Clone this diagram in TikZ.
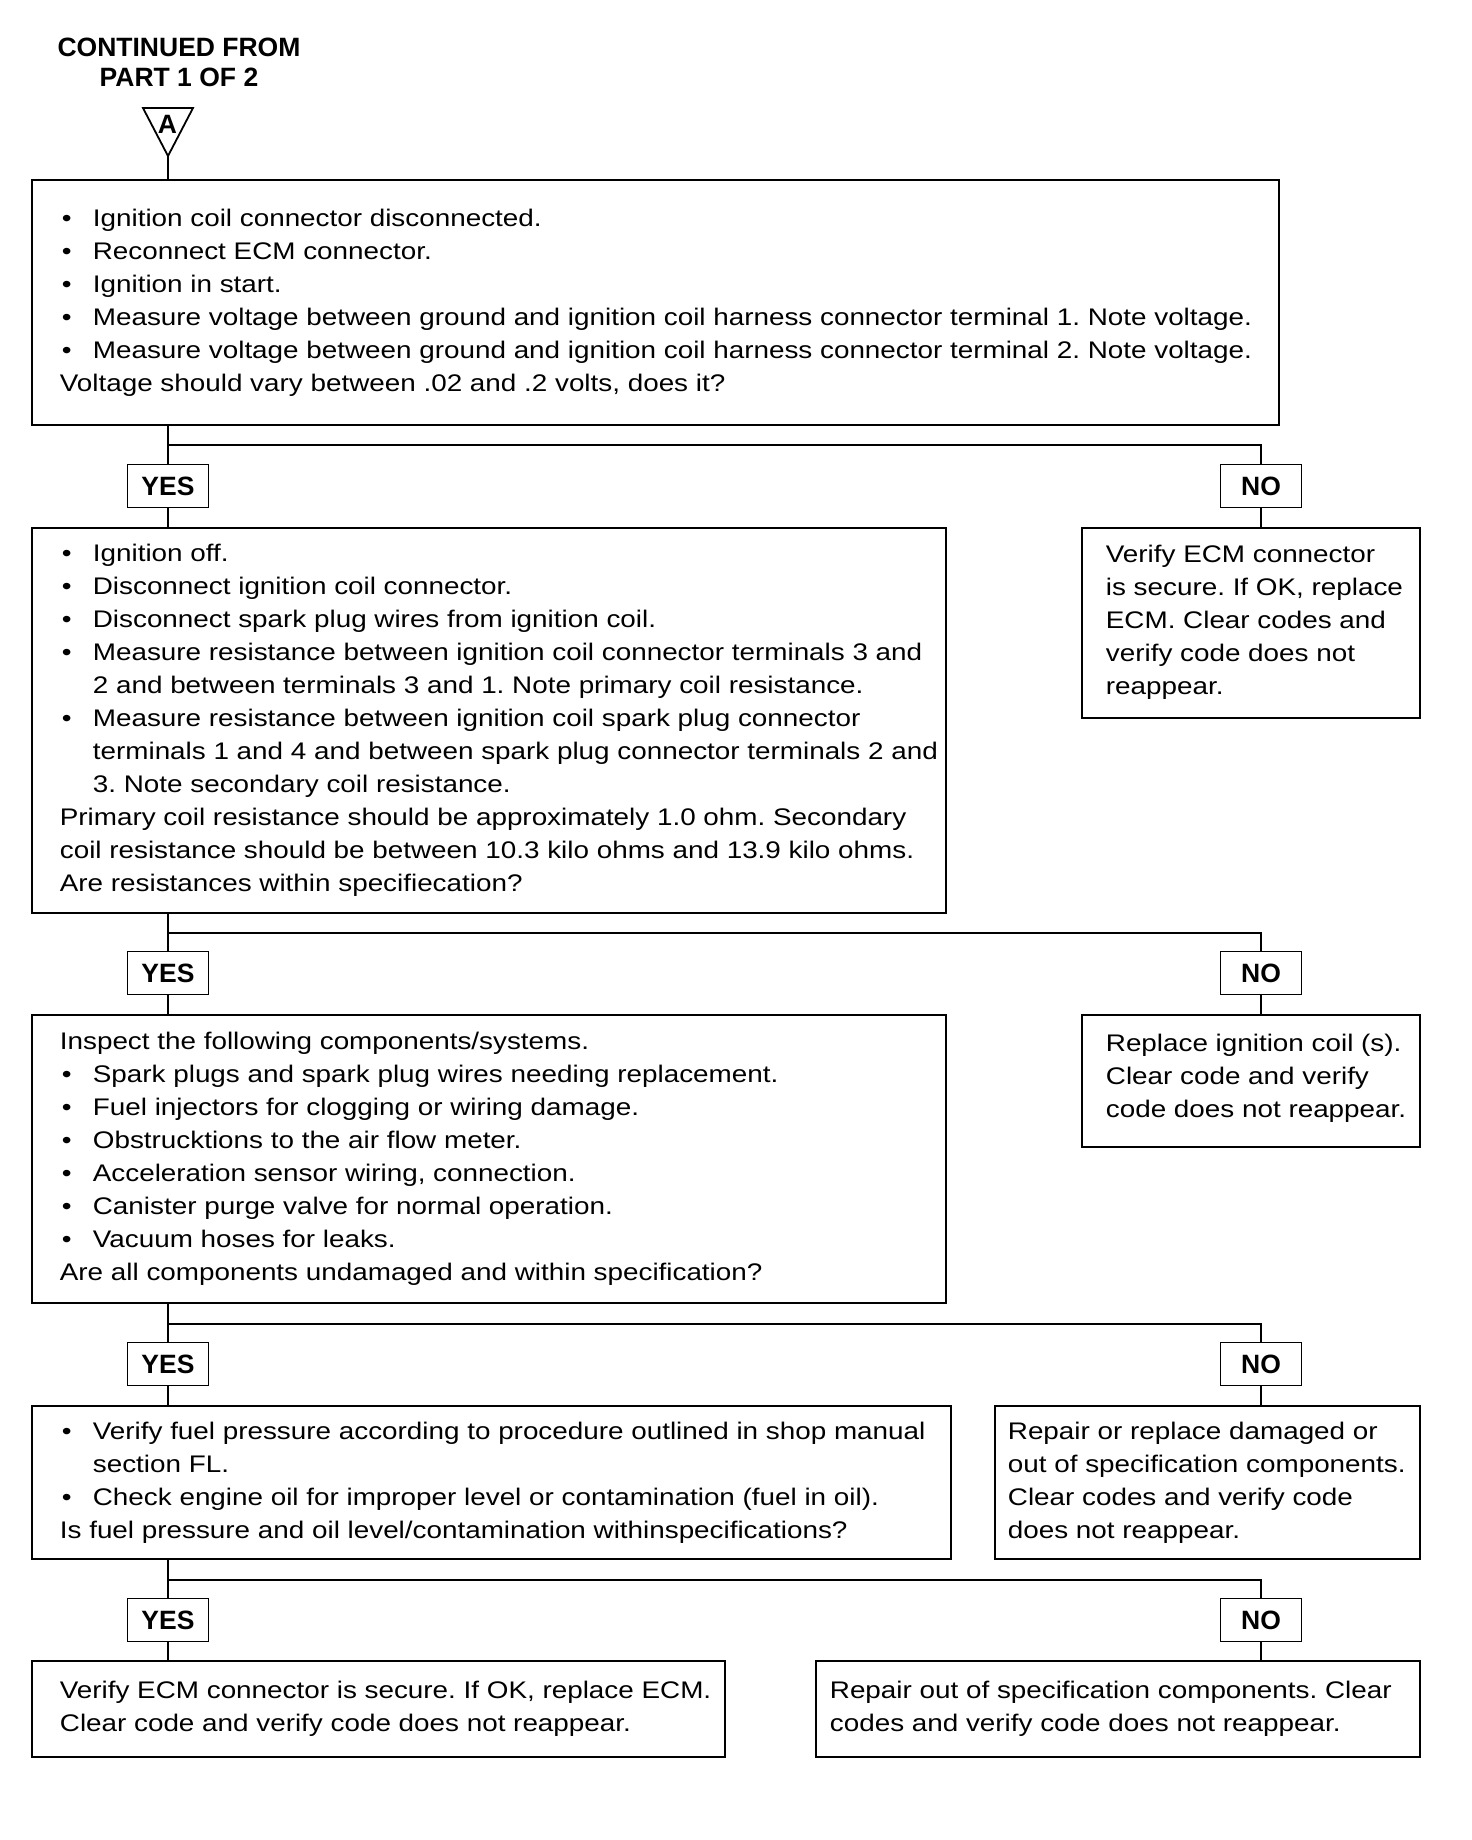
\documentclass[tikz,border=0pt]{standalone}
\usepackage{fontspec}
\setmainfont{Liberation Sans}[FakeStretch=1.16]
\newfontfamily\hdfont{Liberation Sans}
\frenchspacing
\newcommand\bu{\makebox[33pt][l]{\hspace{2pt}\textbullet}}
\newcommand\ind{\makebox[33pt]{}}
\tikzset{
  box/.style={draw, line width=2.6pt, inner sep=0pt},
  txt/.style={anchor=west, align=left, inner sep=0pt, font=\frenchspacing\fontsize{24}{33}\selectfont},
  yn/.style={draw, line width=1.8pt, minimum width=81pt, minimum height=43pt, inner sep=0pt, font=\hdfont\bfseries\fontsize{26.5}{30}\selectfont},
  conn/.style={line width=1.8pt},
  hconn/.style={line width=2.6pt},
}
\begin{document}
\begin{tikzpicture}[x=1pt,y=-1pt]
\useasboundingbox (0,0) rectangle (1472,1840);
% title
\node[align=center, inner sep=0pt, font=\hdfont\bfseries\fontsize{26.5}{30}\selectfont] (title) at (179,62) {CONTINUED FROM\\PART 1 OF 2};
% connector triangle
\draw[line width=1.8pt, line join=miter] (143,108) -- (193,108) -- (168,156) -- cycle;
\coordinate (apex) at (168,156);
\node[inner sep=0pt, font=\hdfont\bfseries\fontsize{26.5}{30}\selectfont] (A) at (167.5,124) {A};

% boxes
\node[box, minimum width=1247pt, minimum height=245pt] (b1) at (655.5,302.5) {};
\node[box, minimum width=914pt, minimum height=385pt] (b2) at (489,720.5) {};
\node[box, minimum width=338pt, minimum height=190pt] (n2) at (1251,623) {};
\node[box, minimum width=914pt, minimum height=288pt] (b3) at (489,1159) {};
\node[box, minimum width=338pt, minimum height=132pt] (n3) at (1251,1081) {};
\node[box, minimum width=919pt, minimum height=153pt] (b4) at (491.5,1482.5) {};
\node[box, minimum width=425pt, minimum height=153pt] (n4) at (1207.5,1482.5) {};
\node[box, minimum width=693pt, minimum height=96pt] (b5) at (378.5,1709) {};
\node[box, minimum width=604pt, minimum height=96pt] (n5) at (1118,1709) {};

% texts
\node[txt] (t1) at ([xshift=29pt]b1.west) {\bu Ignition coil connector disconnected.\\
\bu Reconnect ECM connector.\\
\bu Ignition in start.\\
\bu Measure voltage between ground and ignition coil harness connector terminal 1. Note voltage.\\
\bu Measure voltage between ground and ignition coil harness connector terminal 2. Note voltage.\\
Voltage should vary between .02 and .2 volts, does it?};

\node[txt] (t2) at ([xshift=29pt]b2.west) {\bu Ignition off.\\
\bu Disconnect ignition coil connector.\\
\bu Disconnect spark plug wires from ignition coil.\\
\bu Measure resistance between ignition coil connector terminals 3 and\\
\ind 2 and between terminals 3 and 1. Note primary coil resistance.\\
\bu Measure resistance between ignition coil spark plug connector\\
\ind terminals 1 and 4 and between spark plug connector terminals 2 and\\
\ind 3. Note secondary coil resistance.\\
Primary coil resistance should be approximately 1.0 ohm. Secondary\\
coil resistance should be between 10.3 kilo ohms and 13.9 kilo ohms.\\
Are resistances within specifiecation?};

\node[txt] (tn2) at ([xshift=25pt,yshift=1pt]n2.west) {Verify ECM connector\\
is secure. If OK, replace\\
ECM. Clear codes and\\
verify code does not\\
reappear.};

\node[txt] (t3) at ([xshift=29pt]b3.west) {Inspect the following components/systems.\\
\bu Spark plugs and spark plug wires needing replacement.\\
\bu Fuel injectors for clogging or wiring damage.\\
\bu Obstrucktions to the air flow meter.\\
\bu Acceleration sensor wiring, connection.\\
\bu Canister purge valve for normal operation.\\
\bu Vacuum hoses for leaks.\\
Are all components undamaged and within specification?};

\node[txt] (tn3) at ([xshift=25pt,yshift=3pt]n3.west) {Replace ignition coil (s).\\
Clear code and verify\\
code does not reappear.};

\node[txt] (t4) at ([xshift=29pt]b4.west) {\bu Verify fuel pressure according to procedure outlined in shop manual\\
\ind section FL.\\
\bu Check engine oil for improper level or contamination (fuel in oil).\\
Is fuel pressure and oil level/contamination withinspecifications?};

\node[txt] (tn4) at ([xshift=14pt]n4.west) {Repair or replace damaged or\\
out of specification components.\\
Clear codes and verify code\\
does not reappear.};

\node[txt] (t5) at ([xshift=29pt]b5.west) {Verify ECM connector is secure. If OK, replace ECM.\\
Clear code and verify code does not reappear.};

\node[txt] (tn5) at ([xshift=15pt]n5.west) {Repair out of specification components. Clear\\
codes and verify code does not reappear.};

% yes / no labels
\node[yn] (y1) at (168,486) {YES};
\node[yn] (o1) at (1261,486) {NO};
\node[yn] (y2) at (168,973) {YES};
\node[yn] (o2) at (1261,973) {NO};
\node[yn] (y3) at (168,1364) {YES};
\node[yn] (o3) at (1261,1364) {NO};
\node[yn] (y4) at (168,1620) {YES};
\node[yn] (o4) at (1261,1620) {NO};

\coordinate (j1) at (168,445);
\coordinate (j2) at (168,933);
\coordinate (j3) at (168,1324);
\coordinate (j4) at (168,1580);

% connectors
\draw[conn] (apex) -- (apex |- b1.north);
% level 1
\draw[conn] (y1 |- b1.south) -- (y1.north);
\draw[hconn] (j1) -| (o1.north);
\draw[conn] (y1.south) -- (y1 |- b2.north);
\draw[conn] (o1.south) -- (o1 |- n2.north);
% level 2
\draw[conn] (y2 |- b2.south) -- (y2.north);
\draw[hconn] (j2) -| (o2.north);
\draw[conn] (y2.south) -- (y2 |- b3.north);
\draw[conn] (o2.south) -- (o2 |- n3.north);
% level 3
\draw[conn] (y3 |- b3.south) -- (y3.north);
\draw[hconn] (j3) -| (o3.north);
\draw[conn] (y3.south) -- (y3 |- b4.north);
\draw[conn] (o3.south) -- (o3 |- n4.north);
% level 4
\draw[conn] (y4 |- b4.south) -- (y4.north);
\draw[hconn] (j4) -| (o4.north);
\draw[conn] (y4.south) -- (y4 |- b5.north);
\draw[conn] (o4.south) -- (o4 |- n5.north);
\end{tikzpicture}
\end{document}
